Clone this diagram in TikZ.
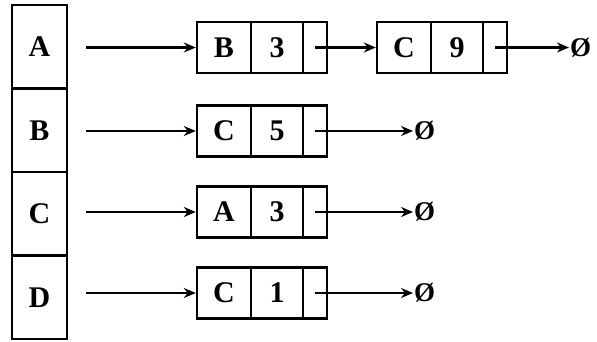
\documentclass[tikz,border=0pt]{standalone}
\usepackage{fontspec}
\setmainfont{Liberation Serif}
\usetikzlibrary{arrows.meta}
\begin{document}
\begin{tikzpicture}[x=1pt,y=-1pt,
  txt/.style={font=\fontsize{30}{30}\selectfont\bfseries},
  headcell/.style={draw,line width=2.4pt,minimum width=55pt,minimum height=83.5pt,inner sep=0pt,txt},
  keycell/.style={draw,line width=2.4pt,minimum width=54pt,minimum height=51pt,inner sep=0pt,txt},
  valcell/.style={draw,line width=2.4pt,minimum width=52pt,minimum height=51pt,inner sep=0pt,txt},
  ptrcell/.style={draw,line width=2.4pt,minimum width=24pt,minimum height=51pt,inner sep=0pt},
  nullsym/.style={anchor=west,inner sep=1pt,font=\fontsize{27}{27}\selectfont\bfseries},
  link/.style={line width=2.2pt,-{Stealth[length=12pt,width=10pt]}}]
\useasboundingbox (0,0) rectangle (597,342);
% head column
\node[headcell] (L1) at (39.5,46.75) {A};
\node[headcell] (L2) at (39.5,130.25) {B};
\node[headcell] (L3) at (39.5,213.75) {C};
\node[headcell] (L4) at (39.5,297.25) {D};
% row A
\node[keycell] (K1) at (224,47.5) {B};
\node[valcell] (V1) at (277,47.5) {3};
\node[ptrcell] (P1) at (315,47.5) {};
\node[keycell] (K1b) at (404,47.5) {C};
\node[valcell] (V1b) at (457,47.5) {9};
\node[ptrcell] (P1b) at (495,47.5) {};
\node[nullsym] (N1) at (569,47.5) {Ø};
% row B
\node[keycell] (K2) at (224,131) {C};
\node[valcell] (V2) at (277,131) {5};
\node[ptrcell] (P2) at (315,131) {};
\node[nullsym] (N2) at (413,131) {Ø};
% row C
\node[keycell] (K3) at (224,212) {A};
\node[valcell] (V3) at (277,212) {3};
\node[ptrcell] (P3) at (315,212) {};
\node[nullsym] (N3) at (413,212) {Ø};
% row D
\node[keycell] (K4) at (224,293) {C};
\node[valcell] (V4) at (277,293) {1};
\node[ptrcell] (P4) at (315,293) {};
\node[nullsym] (N4) at (413,293) {Ø};
% connectors
\draw[link,shorten <=18pt] (L1.east |- K1.west) -- (K1.west);
\draw[link,shorten <=18pt] (L2.east |- K2.west) -- (K2.west);
\draw[link,shorten <=18pt] (L3.east |- K3.west) -- (K3.west);
\draw[link,shorten <=18pt] (L4.east |- K4.west) -- (K4.west);
\draw[link] (P1.center) -- (K1b.west);
\draw[link] (P1b.center) -- (N1.west);
\draw[link] (P2.center) -- (N2.west);
\draw[link] (P3.center) -- (N3.west);
\draw[link] (P4.center) -- (N4.west);
\end{tikzpicture}
\end{document}
